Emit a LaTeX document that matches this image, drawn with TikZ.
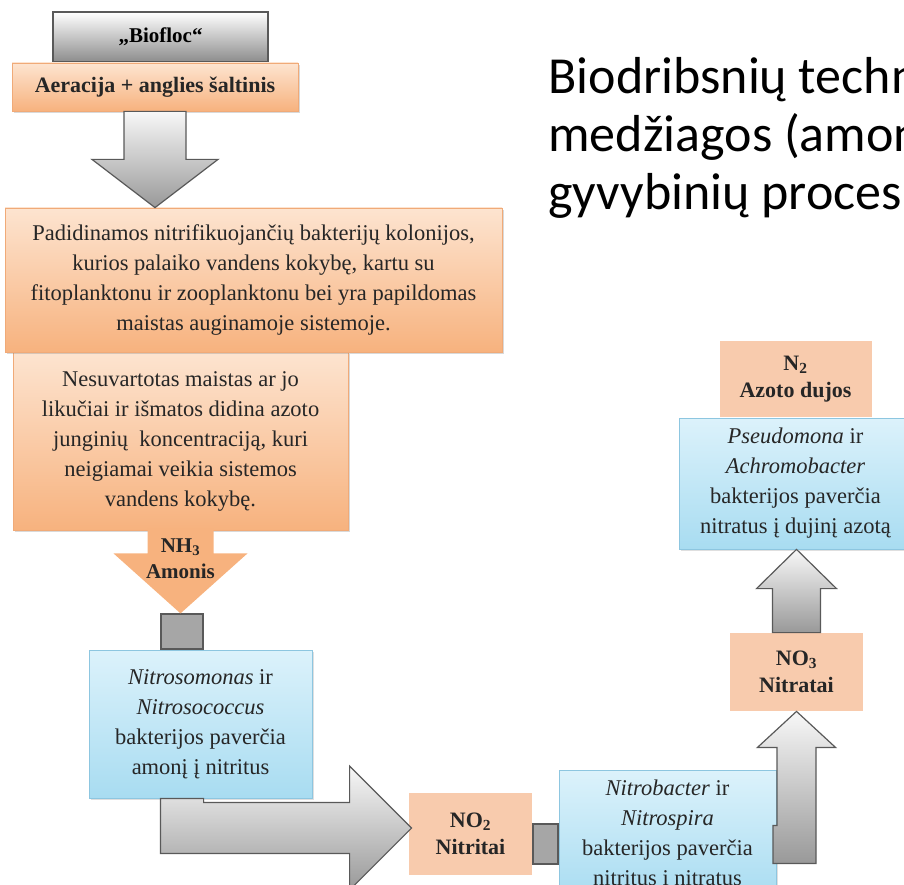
\documentclass[tikz,border=0pt]{standalone}
\usepackage{fontspec}
\setmainfont{Liberation Serif}
\newfontfamily\antrastesfontas{Carlito}
\usetikzlibrary{positioning, calc, shadows}
\usepackage{color}

\definecolor{persikas}{HTML}{F8CBAD}
\definecolor{persikasviesus}{HTML}{FDE4D0}
\definecolor{persikastamsus}{HTML}{F7B27E}
\definecolor{persikasrem}{HTML}{F0AA78}
\definecolor{dangus}{HTML}{A8DCF1}
\definecolor{dangusviesus}{HTML}{DCF2FB}
\definecolor{dangusrem}{HTML}{8DC6E0}
\definecolor{pilka}{HTML}{595959}

\begin{document}
\begin{tikzpicture}[x=1pt, y=-1pt, thick,
    tekstas/.style={font=\fontsize{22.5}{30}\selectfont, text=black!85},
    oranzinis/.style={tekstas, draw=persikasrem, top color=persikasviesus,
        bottom color=persikastamsus, inner sep=0pt,
        drop shadow={opacity=0.3, shadow xshift=1.5pt, shadow yshift=-2pt}},
    melynas/.style={tekstas, draw=dangusrem, top color=dangusviesus,
        bottom color=dangus, inner sep=0pt,
        drop shadow={opacity=0.25, shadow xshift=1.5pt, shadow yshift=-2pt}},
    chemija/.style={fill=persikas, text=black!85, align=center, inner sep=0pt,
        font=\bfseries\fontsize{22}{27}\selectfont},
    pilkarodykle/.style={draw=pilka, top color=black!3, bottom color=black!40,
        line width=1.2pt},
    jungtis/.style={draw=pilka, fill=black!35, line width=1.2pt, inner sep=0pt}
]
    \useasboundingbox (0,0) rectangle (904,885);
    \clip (0,0) rectangle (904,885);

    \node [anchor=base west,
        inner sep=0pt,
        font=\antrastesfontas\fontsize{52}{58}\selectfont
    ] (antraste) at (548,94) {\begin{minipage}[t]{420pt}\raggedright
            Biodribsnių techn\\
            medžiagos (amon\\
            gyvybinių proces
        \end{minipage}};

    \node [draw=pilka,
        top color=white,
        bottom color=black!45,
        line width=1.2pt,
        minimum width=215,
        minimum height=50,
        font=\bfseries\fontsize{21}{25}\selectfont
    ] (biofloc) at (160.5,37) {„Biofloc“};

    \node [oranzinis,
        minimum width=286,
        minimum height=48,
        font=\bfseries\fontsize{22}{26}\selectfont,
        below=0pt of biofloc, xshift=-5.5pt
    ] (aeracija) {Aeracija + anglies šaltinis};

    \node [oranzinis,
        minimum width=335,
        minimum height=178
    ] (maistas) at (180.5,441) {
        \begin{minipage}{320pt}\centering
            Nesuvartotas maistas ar jo\\
            likučiai ir išmatos didina azoto\\
            junginių~ koncentraciją, kuri\\
            neigiamai veikia sistemos\\
            vandens kokybę.
        \end{minipage}
    };

    \node [oranzinis,
        minimum width=497,
        minimum height=144
    ] (kolonijos) at (253.5,280) {
        \begin{minipage}{480pt}\centering
            Padidinamos nitrifikuojančių bakterijų kolonijos,\\
            kurios palaiko vandens kokybę, kartu su\\
            fitoplanktonu ir zooplanktonu bei yra papildomas\\
            maistas auginamoje sistemoje.
        \end{minipage}
    };

    \node [melynas,
        minimum width=223,
        minimum height=148
    ] (nitrosomonas) at (200.5,724) {
        \begin{minipage}{215pt}\centering
            \textit{Nitrosomonas} ir\\
            \textit{Nitrosococcus}\\
            bakterijos paverčia\\
            amonį į nitritus
        \end{minipage}
    };

    \node [jungtis,
        minimum width=42,
        minimum height=35,
        above=0pt of nitrosomonas, xshift=-18.5pt
    ] (jungtis1) {};

    \node [chemija,
        minimum width=123,
        minimum height=82
    ] (nitritai) at (470.5,834) {NO\textsubscript{2}\\Nitritai};

    \node [jungtis,
        minimum width=25,
        minimum height=40,
        right=0pt of nitritai, yshift=-10pt
    ] (jungtis2) {};

    \node [melynas,
        minimum width=217,
        minimum height=130,
        right=0pt of jungtis2, yshift=9pt
    ] (nitrobacter) {
        \begin{minipage}{210pt}\centering
            \textit{Nitrobacter} ir\\
            \textit{Nitrospira}\\
            bakterijos paverčia\\
            nitritus į nitratus
        \end{minipage}
    };

    \node [chemija,
        minimum width=133,
        minimum height=78
    ] (nitratai) at (796.5,672) {NO\textsubscript{3}\\Nitratai};

    \node [melynas,
        minimum width=233,
        minimum height=131
    ] (pseudomona) at (795.5,483.5) {
        \begin{minipage}{225pt}\centering
            \textit{Pseudomona} ir\\
            \textit{Achromobacter}\\
            bakterijos paverčia\\
            nitratus į dujinį azotą
        \end{minipage}
    };

    \node [chemija,
        minimum width=152,
        minimum height=76,
        above=0pt of pseudomona
    ] (azotas) {N\textsubscript{2}\\Azoto dujos};

    % storosios rodyklės
    \draw [pilkarodykle] ($(aeracija.south)+(-31,0)$) -- ++(0,48) -- ++(-32,0)
        -- (aeracija.south |- kolonijos.north) -- ($(aeracija.south)+(63,48)$)
        -- ++(-32,0) -- ($(aeracija.south)+(31,0)$) -- cycle;

    \fill [persikastamsus] ($(maistas.south)+(-33,-2)$) -- ++(0,25) -- ++(-34,0)
        -- (maistas.south |- jungtis1.north) -- ($(maistas.south)+(67,23)$)
        -- ++(-34,0) -- ($(maistas.south)+(33,-2)$) -- cycle;
    \node [inner sep=0pt,
        align=center,
        text=black!85,
        font=\bfseries\fontsize{21}{26}\selectfont,
        below=8pt of maistas
    ] (amonis) {NH\textsubscript{3}\\Amonis};

    \coordinate (smaigalys) at ($(nitritai.west)+(3,-6)$);
    \draw [pilkarodykle] (jungtis1.west |- nitrosomonas.south)
        -- ($(jungtis1.west |- smaigalys)+(0,25.5)$)
        -- ($(smaigalys)+(-62,25.5)$) -- ($(smaigalys)+(-62,62)$)
        -- (smaigalys)
        -- ($(smaigalys)+(-62,-62)$) -- ($(smaigalys)+(-62,-25.5)$)
        -- ($(jungtis1.east |- smaigalys)+(0,-25.5)$)
        -- (jungtis1.east |- nitrosomonas.south) -- cycle;

    \draw [pilkarodykle] ($(nitratai.south)+(-23.5,114)$)
        -- ($(nitratai.south)+(-19.5,114)$) -- ($(nitratai.south)+(-19.5,36)$)
        -- ($(nitratai.south)+(-39,36)$) -- (nitratai.south)
        -- ($(nitratai.south)+(39,36)$) -- ($(nitratai.south)+(19.5,36)$)
        -- ($(nitratai.south)+(19.5,152)$) -- ($(nitratai.south)+(-23.5,152)$)
        -- cycle;

    \draw [pilkarodykle] ($(nitratai.north)+(-24,0)$) -- ++(0,-44) -- ++(-16,0)
        -- (nitratai.north |- pseudomona.south) -- ($(nitratai.north)+(40,-44)$)
        -- ++(-16,0) -- ($(nitratai.north)+(24,0)$) -- cycle;
\end{tikzpicture}
\end{document}
